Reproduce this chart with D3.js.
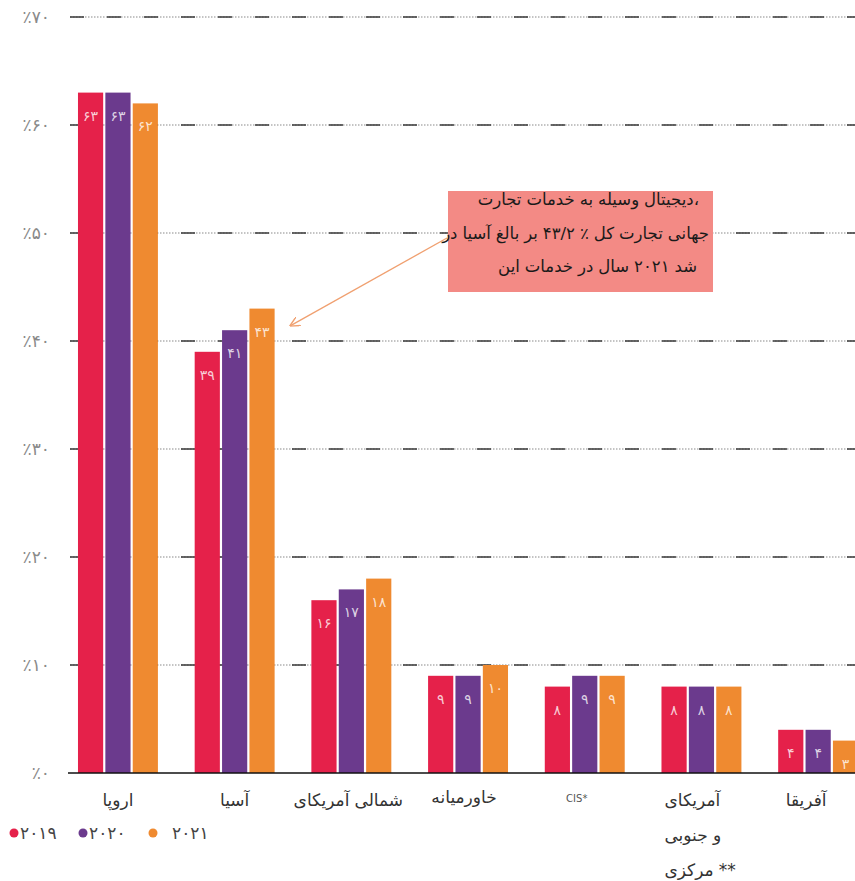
<!DOCTYPE html>
<html>
<head>
<meta charset="utf-8">
<script src="https://cdn.jsdelivr.net/npm/d3@7"></script>
<style>
  html, body { margin: 0; padding: 0; background: #fff; }
  svg { display: block; font-family: "DejaVu Sans", sans-serif; }
</style>
</head>
<body>
<svg id="chart" width="855" height="881"></svg>
<script>
// ---------- data ----------
const categories = ["اروپا", "آسیا", "آمریکای شمالی", "خاورمیانه", "CIS*", "آمریکای جنوبی و مرکزی **", "آفریقا"];
const series = ["2019", "2020", "2021"];
const values2019 = [63, 39, 16, 9, 8, 8, 4];
const values2020 = [63, 41, 17, 9, 9, 8, 4];
const values2021 = [62, 43, 18, 10, 9, 8, 3];
const yTicks = [0, 10, 20, 30, 40, 50, 60, 70];
const legendLabels = ["۲۰۱۹", "۲۰۲۰", "۲۰۲۱"];
const colors = ["#e5214a", "#6b3a8d", "#ef8a30"];
const noteLines = [
  "تجارت خدمات به وسیله دیجیتال،",
  "در آسیا بالغ بر ۴۳/۲ ٪ کل تجارت جهانی",
  "این خدمات در سال ۲۰۲۱ شد"
];
const noteTarget = { cat: "آسیا", value: 43 };

// ---------- helpers ----------
const faDigits = s => String(s).replace(/[0-9]/g, d => "۰۱۲۳۴۵۶۷۸۹"[d]);
const LRM = "\u200E";
// draws the words of a line in left-to-right order (as in the reference)
function drawWords(g, str, x0, y0, anchor, fs, fill) {
  const words = str.split(" ");
  const grp = g.append("g").attr("font-size", fs).attr("fill", fill);
  const els = words.map(w => grp.append("text").attr("y", y0).text(LRM + w + LRM));
  const widths = els.map(e => e.node().getComputedTextLength());
  const sp = fs * 0.3;
  const total = d3.sum(widths) + sp * (words.length - 1);
  let cx = anchor === "start" ? x0 : anchor === "end" ? x0 - total : x0 - total / 2;
  els.forEach((e, i) => { e.attr("x", cx); cx += widths[i] + sp; });
  return grp;
}

const svg = d3.select("#chart");
const valuesBySeries = [values2019, values2020, values2021];

const y = d3.scaleLinear().domain([0, 70]).range([773, 17]);
const x = d3.scaleBand().domain(categories).range([59.6, 876.5])
  .paddingInner(0.315).paddingOuter(0.1575);
const xs = d3.scaleBand().domain(series).range([0, x.bandwidth()]).paddingInner(0.08);

// ---------- grid ----------
const gridTicks = yTicks.filter(t => t > 0);
const grid = svg.append("g");
grid.selectAll("line.dot").data(gridTicks).join("line")
  .attr("x1", 70).attr("x2", 855)
  .attr("y1", d => y(d)).attr("y2", d => y(d))
  .attr("stroke", "#8a8a8a").attr("stroke-width", 1.2)
  .attr("stroke-dasharray", "1.5,1.5");
grid.selectAll("line.dash").data(gridTicks).join("line")
  .attr("x1", 70).attr("x2", 855)
  .attr("y1", d => y(d)).attr("y2", d => y(d))
  .attr("stroke", "#3a3a3a").attr("stroke-width", 1.6)
  .attr("stroke-dasharray", "14,23");

// y labels
svg.append("g").selectAll("text").data(yTicks).join("text")
  .attr("x", 50).attr("y", d => y(d))
  .attr("dy", "0.35em")
  .attr("text-anchor", "end")
  .attr("font-size", 17)
  .attr("fill", "#8a8a8a")
  .text(d => "٪" + faDigits(d));

// ---------- bars ----------
const rows = [];
categories.forEach((c, i) => series.forEach((s, j) => rows.push({ c, s, j, v: valuesBySeries[j][i] })));

const bars = svg.append("g");
bars.selectAll("rect").data(rows).join("rect")
  .attr("x", d => x(d.c) + xs(d.s))
  .attr("y", d => y(d.v))
  .attr("width", xs.bandwidth())
  .attr("height", d => y(0) - y(d.v))
  .attr("fill", d => colors[d.j]);

bars.selectAll("text").data(rows).join("text")
  .attr("x", d => x(d.c) + xs(d.s) + xs.bandwidth() / 2)
  .attr("y", d => y(d.v) + 23)
  .attr("dy", "0.35em")
  .attr("text-anchor", "middle")
  .attr("font-size", 14)
  .attr("fill", "rgba(255,255,255,0.78)")
  .text(d => faDigits(d.v));

// x axis line
svg.append("line")
  .attr("x1", 68).attr("x2", 855)
  .attr("y1", y(0)).attr("y2", y(0))
  .attr("stroke", "#111").attr("stroke-width", 1.6);

// ---------- x labels ----------
const xl = svg.append("g");
const labelColor = "#333";
categories.forEach((c, i) => {
  const cx = x(c) + x.bandwidth() / 2;
  if (c === "CIS*") {
    xl.append("text").attr("x", cx - 8).attr("y", 802)
      .attr("text-anchor", "middle").attr("font-size", 10).attr("fill", "#555")
      .text("CIS*");
  } else if (c.indexOf("جنوبی") >= 0) {
    const lines = ["آمریکای", "جنوبی و", "مرکزی **"];
    lines.forEach((l, k) => drawWords(xl, l, cx - 37, 806 + k * 35, "start", 17, labelColor));
  } else {
    const off = i === 2 ? 3 : (i === 3 ? 4 : (i === 6 ? 12 : 0));
    drawWords(xl, c, cx - off, i === 3 ? 803 : 806, "middle", 17, labelColor);
  }
});

// ---------- legend ----------
const lg = svg.append("g").attr("font-size", 17).attr("fill", "#444");
const legendX = [14, 83, 153];
const legendTextX = [20, 89, 172];
legendLabels.forEach((l, i) => {
  lg.append("circle").attr("cx", legendX[i]).attr("cy", 833).attr("r", 4.5).attr("fill", colors[i]);
  lg.append("text").attr("x", legendTextX[i]).attr("y", 839).text(l);
});

// ---------- annotation ----------
const defs = svg.append("defs");
defs.append("marker").attr("id", "arr")
  .attr("viewBox", "0 0 10 10").attr("refX", 9).attr("refY", 5)
  .attr("markerWidth", 10).attr("markerHeight", 10).attr("orient", "auto")
  .attr("markerUnits", "userSpaceOnUse")
  .append("path").attr("d", "M0,0 L10,5 L0,10")
  .attr("fill", "none").attr("stroke", "#f0a070").attr("stroke-width", 1.4);

const tx = x(noteTarget.cat) + xs("2021") + xs.bandwidth() + 16;
const ty = y(noteTarget.value) + 17;
svg.append("line")
  .attr("x1", 447).attr("y1", 238).attr("x2", tx).attr("y2", ty)
  .attr("stroke", "#f0a070").attr("stroke-width", 1.3)
  .attr("marker-end", "url(#arr)");

svg.append("rect").attr("x", 448).attr("y", 191).attr("width", 265).attr("height", 101)
  .attr("fill", "#f38a85");

const nt = svg.append("g");
const noteY = [205, 239, 272];
const noteRight = [699, 709, 697];
noteLines.forEach((l, k) => drawWords(nt, l, noteRight[k], noteY[k], "end", 16.5, "#1a1a1a"));
</script>
</body>
</html>
